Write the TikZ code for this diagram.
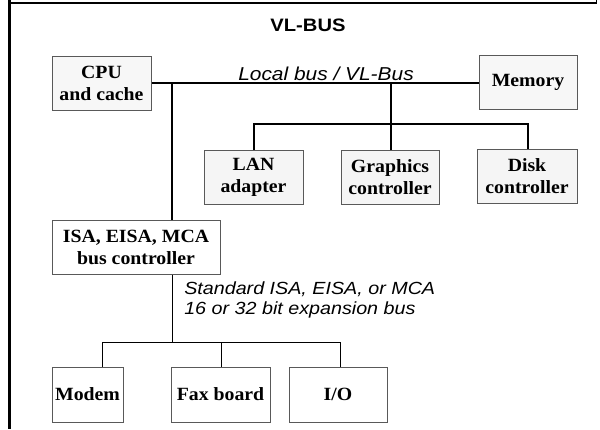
\documentclass[tikz,border=0pt]{standalone}
\usepackage{fontspec}
\setmainfont{Liberation Serif}[FakeStretch=1.06]
\setsansfont{Liberation Sans}[FakeStretch=1.12]
\begin{document}
\begin{tikzpicture}[x=0.75pt,y=-0.75pt,
  unit/.style={draw=black!65, line width=0.75pt, fill=#1, minimum width=0pt,
    minimum height=0pt, inner sep=0pt, align=center,
    font=\fontsize{14}{16.5}\selectfont\bfseries},
  unit/.default=white,
  vlbus/.style={line width=2pt},
  isabus/.style={line width=0.75pt},
  buslabel/.style={inner sep=0pt, font=\fontsize{#1}{15}\selectfont\sffamily\itshape},
  buslabel/.default=13.2]
\useasboundingbox (0,0) rectangle (600,429);

% outer frame
\draw[line width=2.4pt] (9.5,0) -- (9.5,429);
\draw[line width=1.6pt] (8.5,3) -- (597,3);
\draw[line width=0.8pt] (596.5,0) -- (596.5,3.5);

% title
\node[font=\fontsize{13.5}{16}\selectfont\sffamily\bfseries, anchor=base] (title) at (308,31.5) {VL-BUS};

% VL-Bus devices
\node[unit=black!3, minimum width=99pt*0.75, minimum height=54pt*0.75] (cpu) at (101.5,83) {CPU\\and cache};
\node[unit=black!3, minimum width=98pt*0.75, minimum height=54pt*0.75] (mem) at (528,82) {Memory};
\node[unit=black!4, minimum width=99pt*0.75, minimum height=54pt*0.75] (lan) at (253.5,177) {LAN\\adapter};
\node[unit=black!4, minimum width=98pt*0.75, minimum height=54pt*0.75] (gfx) at (390,177) {Graphics\\controller};
\node[unit=black!4, minimum width=100pt*0.75, minimum height=54pt*0.75] (disk) at (527,176) {Disk\\controller};

% expansion bus devices
\node[unit, minimum width=168pt*0.75, minimum height=54pt*0.75] (isa) at (136,247) {ISA, EISA, MCA\\bus controller};
\node[unit, minimum width=71pt*0.75, minimum height=55pt*0.75] (modem) at (87.5,394.5) {Modem};
\node[unit, minimum width=99pt*0.75, minimum height=55pt*0.75] (fax) at (220.5,394.5) {Fax board};
\node[unit, minimum width=98pt*0.75, minimum height=55pt*0.75] (io) at (338,394.5) {I/O};

% local bus
\coordinate (jcpu) at (172,83);
\coordinate (jgfx) at (391,83);
\draw[vlbus] (cpu.east |- jcpu) -- (mem.west |- jcpu);
\draw[vlbus] (jcpu) -- (jcpu |- isa.north);
\draw[vlbus] (jgfx) -- (jgfx |- gfx.north);
\coordinate (sbl) at (254,124);
\coordinate (sbr) at (528,124);
\draw[vlbus] (sbl |- lan.north) -- (sbl) -- (sbr) -- (sbr |- disk.north);
\node[buslabel=14, anchor=base] (vllabel) at (326,80) {Local bus / VL-Bus};

% expansion bus
\coordinate (eb) at (172,342);
\coordinate (ebl) at (102,342);
\coordinate (ebm) at (221,342);
\coordinate (ebr) at (340,342);
\draw[isabus] (isa.south -| eb) -- (eb);
\draw[isabus] (ebl |- modem.north) -- (ebl) -- (ebr) -- (ebr |- io.north);
\draw[isabus] (ebm) -- (ebm |- fax.north);
\node[buslabel, anchor=base west, align=left] (exlabel) at (184,314)
  {Standard ISA, EISA, or MCA\\16 or 32 bit expansion bus};
\end{tikzpicture}
\end{document}
